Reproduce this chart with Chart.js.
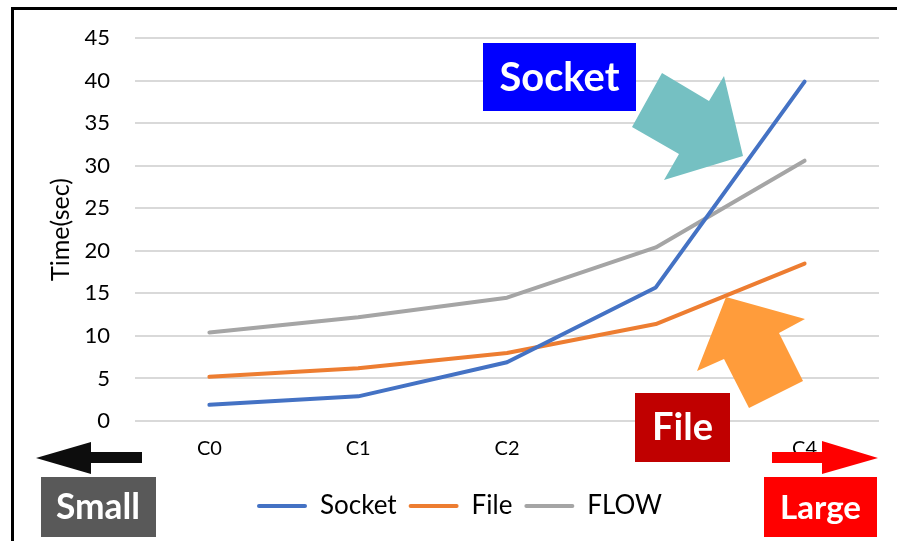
<!DOCTYPE html>
<html>
<head>
<meta charset="utf-8">
<script src="https://cdn.jsdelivr.net/npm/chart.js@4.4.0/dist/chart.umd.min.js"></script>
<style>
  html, body { margin: 0; padding: 0; background: #fff; }
  #wrap { width: 897px; height: 541px; }
</style>
</head>
<body>
<div id="wrap"><canvas id="chart" width="897" height="541"></canvas></div>
<script>
// data
const categories = ['C0', 'C1', 'C2', 'C3', 'C4'];
const socketTimes = [1.9, 2.9, 6.9, 15.7, 39.9];
const fileTimes = [5.2, 6.2, 8.0, 11.4, 18.5];
const flowTimes = [10.4, 12.2, 14.5, 20.4, 30.6];

const FONT = 'Lato, "Open Sans", sans-serif';

// fill a text centred in a box, scaled to a wanted width
function boxText(ctx, text, cx, cy, wantWidth) {
    ctx.font = 'bold 30px ' + FONT;
    const size = 30 * wantWidth / ctx.measureText(text).width;
    ctx.font = 'bold ' + size.toFixed(1) + 'px ' + FONT;
    ctx.fillStyle = '#fff';
    ctx.textAlign = 'center';
    ctx.textBaseline = 'middle';
    ctx.fillText(text, cx, cy + 1);
}

function poly(ctx, pts, color) {
    ctx.beginPath();
    ctx.moveTo(pts[0][0], pts[0][1]);
    pts.slice(1).forEach(p => ctx.lineTo(p[0], p[1]));
    ctx.closePath();
    ctx.fillStyle = color;
    ctx.fill();
}

// frame + callouts drawn over the chart
const decorations = {
    id: 'decorations',
    beforeDraw(chart) {
        const ctx = chart.ctx;
        ctx.save();
        ctx.fillStyle = '#fff';
        ctx.fillRect(0, 0, chart.width, chart.height);
        ctx.restore();
    },
    afterDraw(chart) {
        const ctx = chart.ctx;
        ctx.save();

        // frame (only top and left visible)
        ctx.strokeStyle = '#000';
        ctx.lineWidth = 3;
        ctx.beginPath();
        ctx.moveTo(12.5, 541);
        ctx.lineTo(12.5, 8.5);
        ctx.lineTo(897, 8.5);
        ctx.stroke();

        // Socket label + teal arrow
        ctx.fillStyle = '#0000FF';
        ctx.fillRect(483, 43, 153, 68);
        boxText(ctx, 'Socket', 559.5, 77, 120);
        poly(ctx, [[632, 127], [662, 73], [709, 101], [724, 76], [743, 156], [664, 180], [679, 154]], '#75C0C2');

        // File label + orange arrow
        poly(ctx, [[726, 297], [805, 319], [779, 333], [803, 381], [749, 408], [724, 359], [697, 371]], '#FF9C3B');
        ctx.fillStyle = '#C00000';
        ctx.fillRect(635, 393, 95, 69);
        boxText(ctx, 'File', 682.5, 427, 61);

        // Small arrow + label
        poly(ctx, [[36, 458], [91, 442], [91, 452], [142, 452], [142, 463], [91, 463], [91, 474]], '#0D0D0D');
        ctx.fillStyle = '#595959';
        ctx.fillRect(41, 477, 115, 60);
        boxText(ctx, 'Small', 98, 507, 84);

        // Large arrow + label
        poly(ctx, [[878, 458], [822, 441], [822, 452], [772, 452], [772, 463], [822, 463], [822, 474]], '#FF0000');
        ctx.fillStyle = '#FF0000';
        ctx.fillRect(764, 477, 113, 60);
        boxText(ctx, 'Large', 820.5, 507, 81);

        ctx.restore();
    }
};

function lineSet(label, data, color) {
    return {
        label: label,
        data: data,
        borderColor: color,
        backgroundColor: color,
        borderWidth: 4,
        borderCapStyle: 'round',
        borderJoinStyle: 'round',
        pointRadius: 0,
        pointHoverRadius: 0,
        tension: 0,
        fill: false
    };
}

new Chart(document.getElementById('chart').getContext('2d'), {
    type: 'line',
    data: {
        labels: categories,
        datasets: [
            lineSet('Socket', socketTimes, '#4472C4'),
            lineSet('File', fileTimes, '#ED7D31'),
            lineSet('FLOW', flowTimes, '#A5A5A5')
        ]
    },
    options: {
        responsive: false,
        animation: false,
        devicePixelRatio: 1,
        layout: {
            padding: { left: 40, right: 18, top: 37, bottom: 12 }
        },
        scales: {
            x: {
                offset: true,
                grid: { display: false, drawTicks: false },
                border: { display: false },
                ticks: {
                    color: '#000',
                    padding: 16,
                    maxRotation: 0,
                    font: { family: FONT, size: 20 }
                },
                afterFit(scale) {
                    const legendH = scale.chart.legend ? scale.chart.legend.height : 0;
                    scale.height = 541 - 421 - 12 - legendH;
                }
            },
            y: {
                min: 0,
                max: 45,
                ticks: {
                    stepSize: 5,
                    color: '#000',
                    padding: 25,
                    font: { family: FONT, size: 22 }
                },
                grid: { color: '#D9D9D9', lineWidth: 2, drawTicks: false },
                border: { display: false },
                title: {
                    display: true,
                    text: 'Time(sec)',
                    color: '#000',
                    padding: { top: 6, bottom: 0 },
                    font: { family: FONT, size: 25 }
                },
                afterFit(scale) {
                    scale.width = 95;
                }
            }
        },
        plugins: {
            tooltip: { enabled: false },
            legend: {
                position: 'bottom',
                labels: {
                    color: '#000',
                    boxWidth: 50,
                    boxHeight: 4,
                    padding: 12,
                    font: { family: FONT, size: 26 },
                    generateLabels(chart) {
                        return chart.data.datasets.map((ds, i) => ({
                            text: ds.label,
                            fillStyle: ds.borderColor,
                            strokeStyle: ds.borderColor,
                            lineWidth: 0,
                            hidden: false,
                            datasetIndex: i,
                            borderRadius: 2
                        }));
                    }
                }
            }
        }
    },
    plugins: [decorations]
});
</script>
</body>
</html>
